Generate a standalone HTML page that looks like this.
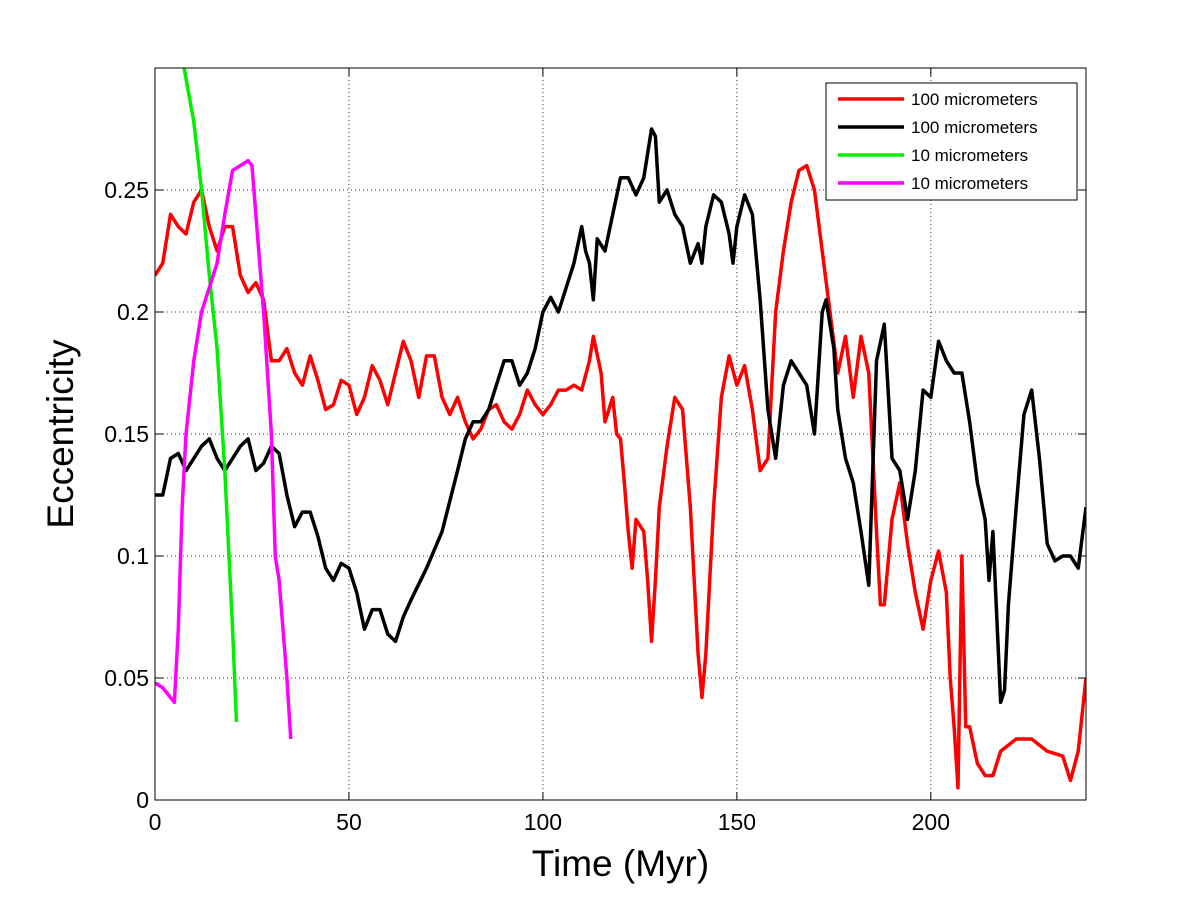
<!DOCTYPE html>
<html><head><meta charset="utf-8"><style>
body{margin:0;background:#fff;}
svg text{font-family:"Liberation Sans",Arial,sans-serif;}
</style></head><body>
<svg id="chart" width="1200" height="900"></svg>
<script>
const xTicks=[0,50,100,150,200];
const yTicks=[0,0.05,0.1,0.15,0.2,0.25];
const yTickLabels=["0","0.05","0.1","0.15","0.2","0.25"];
const redX=[0,2,4,6,8,10,12,14,16,18,20,22,24,26,28,30,32,34,36,38,40,42,44,46,48,50,52,54,56,58,60,62,64,66,68,70,72,74,76,78,80,82,84,86,88,90,92,94,96,98,100,102,104,106,108,110,112,113,115,116,118,119,120,121,122,123,124,126,127,128,129,130,132,134,136,138,140,141,142,144,146,148,150,152,154,156,158,160,162,164,166,168,170,172,174,176,178,180,182,184,186,187,188,190,192,194,196,198,200,202,204,205,206,207,208,209,210,212,214,216,218,222,226,230,234,236,238,240];
const redY=[0.215,0.22,0.24,0.235,0.232,0.245,0.25,0.235,0.225,0.235,0.235,0.215,0.208,0.212,0.205,0.18,0.18,0.185,0.175,0.17,0.182,0.172,0.16,0.162,0.172,0.17,0.158,0.165,0.178,0.172,0.162,0.175,0.188,0.18,0.165,0.182,0.182,0.165,0.158,0.165,0.155,0.148,0.152,0.16,0.162,0.155,0.152,0.158,0.168,0.162,0.158,0.162,0.168,0.168,0.17,0.168,0.18,0.19,0.175,0.155,0.165,0.15,0.148,0.13,0.11,0.095,0.115,0.11,0.09,0.065,0.09,0.12,0.145,0.165,0.16,0.12,0.06,0.042,0.06,0.12,0.165,0.182,0.17,0.178,0.16,0.135,0.14,0.2,0.225,0.245,0.258,0.26,0.25,0.225,0.2,0.175,0.19,0.165,0.19,0.175,0.11,0.08,0.08,0.115,0.13,0.105,0.085,0.07,0.09,0.102,0.085,0.05,0.03,0.005,0.1,0.03,0.03,0.015,0.01,0.01,0.02,0.025,0.025,0.02,0.018,0.008,0.02,0.05];
const blackX=[0,2,4,6,8,10,12,14,16,18,20,22,24,26,28,30,32,34,36,38,40,42,44,46,48,50,52,54,56,58,60,62,64,66,70,74,78,80,82,84,86,88,90,92,94,96,98,100,102,104,106,108,110,111,112,113,114,116,118,120,122,124,126,128,129,130,132,134,136,138,140,141,142,144,146,148,149,150,152,154,156,158,160,162,164,166,168,170,172,173,175,176,178,180,182,184,186,188,190,192,194,196,198,200,202,204,206,208,210,212,214,215,216,218,219,220,222,224,226,228,230,232,234,236,238,240];
const blackY=[0.125,0.125,0.14,0.142,0.135,0.14,0.145,0.148,0.14,0.135,0.14,0.145,0.148,0.135,0.138,0.145,0.142,0.125,0.112,0.118,0.118,0.108,0.095,0.09,0.097,0.095,0.085,0.07,0.078,0.078,0.068,0.065,0.075,0.082,0.095,0.11,0.135,0.148,0.155,0.155,0.16,0.17,0.18,0.18,0.17,0.175,0.185,0.2,0.206,0.2,0.21,0.22,0.235,0.225,0.22,0.205,0.23,0.225,0.24,0.255,0.255,0.248,0.255,0.275,0.272,0.245,0.25,0.24,0.235,0.22,0.228,0.22,0.235,0.248,0.245,0.232,0.22,0.235,0.248,0.24,0.205,0.16,0.14,0.17,0.18,0.175,0.17,0.15,0.2,0.205,0.185,0.16,0.14,0.13,0.11,0.088,0.18,0.195,0.14,0.135,0.115,0.135,0.168,0.165,0.188,0.18,0.175,0.175,0.155,0.13,0.115,0.09,0.11,0.04,0.045,0.08,0.12,0.158,0.168,0.14,0.105,0.098,0.1,0.1,0.095,0.12];
const greenX=[7.5,10,12,14,16,18,20,21];
const greenY=[0.3,0.278,0.25,0.215,0.185,0.135,0.07,0.032];
const magX=[0,2,4,5,6,7,8,10,12,14,16,18,20,22,24,25,26,28,30,31,32,34,35];
const magY=[0.048,0.046,0.042,0.04,0.07,0.12,0.15,0.18,0.2,0.21,0.22,0.24,0.258,0.26,0.262,0.26,0.24,0.2,0.15,0.1,0.09,0.05,0.025];
const legendLabels=["100 micrometers","100 micrometers","10 micrometers","10 micrometers"];
const colors=["#ff0000","#000000","#00ee00","#ff00ff"];

const L=155,T=68,R=1086,B=800,XMAX=240,YMAX=0.3;
const sx=v=>L+(v/XMAX)*(R-L);
const sy=v=>B-(v/YMAX)*(B-T);
const svg=document.getElementById('chart');
const NS="http://www.w3.org/2000/svg";
function mk(tag,attrs,parent){const e=document.createElementNS(NS,tag);for(const k in attrs)e.setAttribute(k,attrs[k]);(parent||svg).appendChild(e);return e;}

mk('rect',{x:L,y:T,width:R-L,height:B-T,fill:'#fff'});
xTicks.forEach((t,i)=>{
  if(t>0){const g=mk('line',{x1:sx(t),x2:sx(t),y1:T,y2:B,stroke:'#333','stroke-dasharray':'1,3','stroke-width':1});
  
  }
  mk('line',{x1:sx(t),x2:sx(t),y1:B,y2:B-8,stroke:'#000'});
  mk('line',{x1:sx(t),x2:sx(t),y1:T,y2:T+8,stroke:'#000'});
  const tx=mk('text',{x:sx(t),y:B+30,'font-size':23,'text-anchor':'middle'});
  tx.textContent=t;
  
  
});
yTicks.forEach((t,i)=>{
  if(t>0){const g=mk('line',{x1:L,x2:R,y1:sy(t),y2:sy(t),stroke:'#333','stroke-dasharray':'1,3','stroke-width':1});
  
  }
  mk('line',{x1:L,x2:L+8,y1:sy(t),y2:sy(t),stroke:'#000'});
  mk('line',{x1:R,x2:R-8,y1:sy(t),y2:sy(t),stroke:'#000'});
  const tx=mk('text',{x:L-6,y:sy(t)+8,'font-size':23,'text-anchor':'end'});
  tx.textContent=yTickLabels[i];
  
  
});
const defs=mk('defs',{});
const cp=mk('clipPath',{id:'clip'},defs);
mk('rect',{x:L,y:T,width:R-L,height:B-T},cp);
function series(xs,ys,c,name){
  const p=mk('polyline',{points:xs.map((x,i)=>sx(x)+','+sy(ys[i])).join(' '),fill:'none',stroke:c,'stroke-width':3.5,'stroke-linejoin':'round','clip-path':'url(#clip)'});
  
  
}
series(redX,redY,colors[0],'series-red-100um');
series(blackX,blackY,colors[1],'series-black-100um');
series(greenX,greenY,colors[2],'series-green-10um');
series(magX,magY,colors[3],'series-magenta-10um');
const fr=mk('rect',{x:L,y:T,width:R-L,height:B-T,fill:'none',stroke:'#000','stroke-width':1});



const lg=mk('g',{});


mk('rect',{x:826,y:83,width:251,height:117,fill:'#fff',stroke:'#000'},lg);
legendLabels.forEach((lab,i)=>{
  const y=99+i*28;
  const e=mk('g',{},lg);
  
  
  mk('line',{x1:838,x2:904,y1:y,y2:y,stroke:colors[i],'stroke-width':3.5},e);
  const t=mk('text',{x:911,y:y+6,'font-size':17},e);t.textContent=lab;
});
const xl=mk('text',{x:(L+R)/2,y:876,'font-size':37,'text-anchor':'middle'});
xl.textContent='Time (Myr)';


const yl=mk('text',{x:0,y:0,'font-size':37,'text-anchor':'middle',transform:'translate(73,434) rotate(-90)'});
yl.textContent='Eccentricity';


</script>
</body></html>
